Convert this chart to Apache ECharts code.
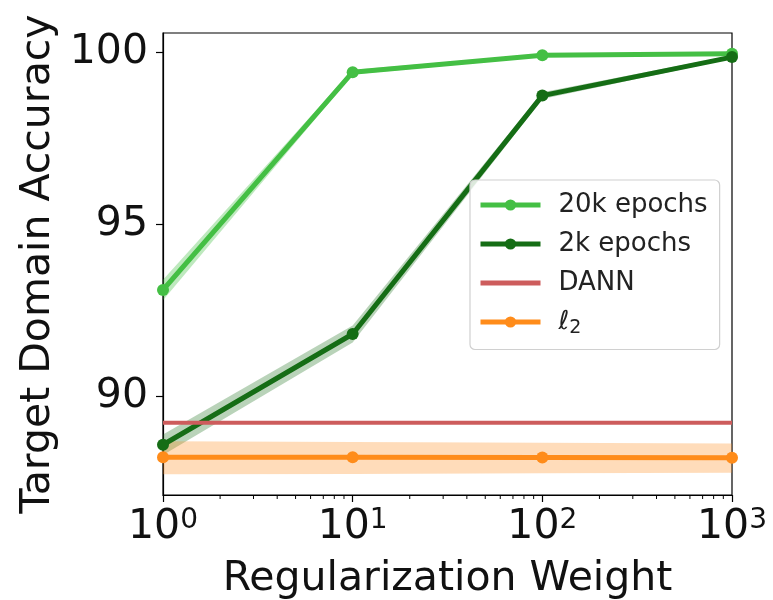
<!DOCTYPE html>
<html>
<head>
<meta charset="utf-8">
<script src="https://cdn.jsdelivr.net/npm/echarts@6/dist/echarts.min.js"></script>
<style>
html,body{margin:0;padding:0;background:#fff;}
#chart{width:773px;height:600px;}
</style>
</head>
<body>
<div id="chart"></div>
<script>
// values
var weights = [1, 10, 100, 1000];
var minorTicks = [2,3,4,5,6,7,8,9,20,30,40,50,60,70,80,90,200,300,400,500,600,700,800,900];

var acc20k   = [93.08, 99.41, 99.9, 99.95];
var acc20kLo = [92.78, 99.34, 99.86, 99.92];
var acc20kHi = [93.38, 99.48, 99.94, 99.98];

var acc2k   = [88.58, 91.8, 98.73, 99.85];
var acc2kLo = [88.28, 91.55, 98.63, 99.8];
var acc2kHi = [88.88, 92.05, 98.83, 99.9];

var accDann = 89.22;

var accL2   = [88.22, 88.22, 88.21, 88.2];
var accL2Lo = [87.72, 87.73, 87.75, 87.77];
var accL2Hi = [88.68, 88.66, 88.64, 88.62];

var yTicks = [90, 95, 100];
var yMin = 87.12, yMax = 100.55;

var FONT = 'DejaVu Sans';
var FS = 41;

function pairs(xs, ys) {
    return xs.map(function (x, i) { return [x, ys[i]]; });
}

// filled band, drawn as one polygon through the axes
function band(name, lo, hi, fill) {
    return {
        type: 'custom',
        name: name,
        silent: true,
        z: 1,
        clip: true,
        encode: {x: 0, y: [1, 2]},
        data: weights.map(function (x, i) { return [x, lo[i], hi[i]]; }),
        renderItem: function (params, api) {
            if (params.dataIndex !== 0) return;
            var pts = [];
            for (var i = 0; i < weights.length; i++) pts.push(api.coord([weights[i], lo[i]]));
            for (var j = weights.length - 1; j >= 0; j--) pts.push(api.coord([weights[j], hi[j]]));
            return {type: 'polygon', shape: {points: pts}, style: {fill: fill}};
        }
    };
}

function line(name, data, color, sym) {
    return {
        type: 'line',
        name: name,
        data: data,
        z: 3,
        symbol: sym ? 'circle' : 'none',
        symbolSize: 12,
        showSymbol: !!sym,
        lineStyle: {color: color, width: sym ? 5 : 4},
        itemStyle: {color: color},
        emphasis: {disabled: true}
    };
}

var chart = echarts.init(document.getElementById('chart'));
chart.setOption({
    animation: false,
    textStyle: {fontFamily: FONT},
    grid: {left: 163, right: 41, top: 33, bottom: 105, outerBoundsMode: 'none',
        show: true, borderColor: '#000', borderWidth: 1.2, backgroundColor: 'transparent'},
    legend: {
        left: 470, top: 180,
        orient: 'vertical',
        data: ['20k epochs', '2k epochs', {name: 'DANN', icon: 'path://M0 0H60V5H0Z', itemStyle: {color: '#cd5c5c'}}, 'ℓ2'],
        itemWidth: 60, itemHeight: 14, itemGap: 11,
        padding: [11, 12, 12, 8],
        lineStyle: {width: 5},
        backgroundColor: 'rgba(255,255,255,0.85)',
        borderColor: '#d0d0d0', borderWidth: 1.2, borderRadius: 5,
        textStyle: {fontFamily: FONT, fontSize: 26, color: '#222', lineHeight: 28, padding: [0, 0, 0, 13],
            rich: {
                i: {fontFamily: FONT, fontSize: 26, fontStyle: 'italic', color: '#222'},
                s: {fontFamily: FONT, fontSize: 19, color: '#222', padding: [12, 0, 0, 0]}
            }},
        formatter: function (n) { return n === 'ℓ2' ? '{i|ℓ}{s|2}' : n; }
    },
    xAxis: {
        type: 'log', logBase: 10, min: 1, max: 1000,
        name: 'Regularization Weight', nameLocation: 'middle', nameGap: 64,
        nameTextStyle: {fontFamily: FONT, fontSize: FS, color: '#111'},
        axisLine: {lineStyle: {color: '#000', width: 1.2}},
        axisTick: {length: 7, lineStyle: {color: '#000', width: 1.2}},
        splitLine: {show: false},
        axisLabel: {
            margin: 12, color: '#111',
            formatter: function (v) { return '{b|10}{s|' + Math.round(Math.log10(v)) + '}'; },
            rich: {
                b: {fontFamily: FONT, fontSize: FS, color: '#111'},
                s: {fontFamily: FONT, fontSize: 28, color: '#111', verticalAlign: 'top'}
            }
        }
    },
    yAxis: {
        type: 'value', min: yMin, max: yMax,
        name: 'Target Domain Accuracy', nameLocation: 'middle', nameGap: 101,
        nameTextStyle: {fontFamily: FONT, fontSize: FS, color: '#111'},
        axisLine: {show: true, lineStyle: {color: '#000', width: 1.2}},
        axisTick: {show: true, length: 7, customValues: yTicks, lineStyle: {color: '#000', width: 1.2}},
        splitLine: {show: false},
        axisLabel: {margin: 15, fontFamily: FONT, fontSize: FS, color: '#111', customValues: yTicks}
    },
    series: [
        band('band20k', acc20kLo, acc20kHi, 'rgba(68,191,68,0.35)'),
        band('band2k', acc2kLo, acc2kHi, 'rgba(22,110,22,0.3)'),
        band('bandL2', accL2Lo, accL2Hi, 'rgba(255,140,26,0.3)'),
        line('20k epochs', pairs(weights, acc20k), '#44bf44', true),
        line('2k epochs', pairs(weights, acc2k), '#156d15', true),
        line('DANN', [[weights[0], accDann], [weights[weights.length - 1], accDann]], '#cd5c5c', false),
        line('ℓ2', pairs(weights, accL2), '#ff8c1a', true),
        {
            // minor ticks of the log axis
            type: 'custom', name: 'minor', silent: true, clip: false, z: 4,
            encode: {x: 0},
            data: minorTicks.map(function (v) { return [v]; }),
            renderItem: function (params, api) {
                var p = api.coord([api.value(0), yMin]);
                return {type: 'line', shape: {x1: p[0], y1: p[1], x2: p[0], y2: p[1] + 4}, style: {stroke: '#000', lineWidth: 1}};
            }
        }
    ]
});
</script>
</body>
</html>
